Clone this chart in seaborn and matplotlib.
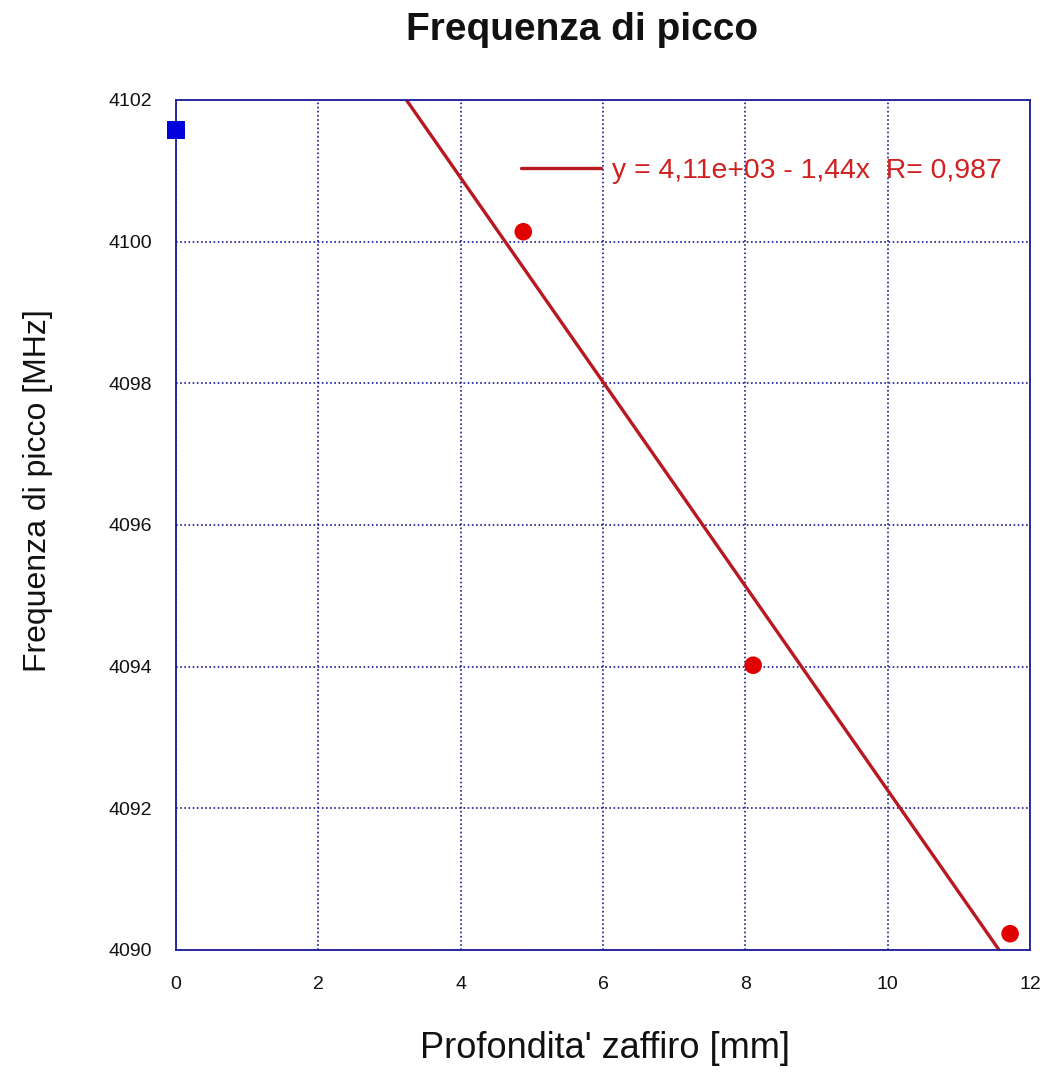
import numpy as np
import pandas as pd
import matplotlib
matplotlib.use("Agg")
import matplotlib.pyplot as plt
import seaborn as sns

# data
ref_x = [0.0]
ref_y = [4101.58]
depth = [4.88, 8.11, 11.72]
freq = [4100.14, 4094.02, 4090.23]
fit_label = "y = 4,11e+03 - 1,44x  R= 0,987"
x_ticks = [0, 2, 4, 6, 8, 10, 12]
y_ticks = [4090, 4092, 4094, 4096, 4098, 4100, 4102]

sns.set_style("white")
plt.rcParams['font.family'] = ['Liberation Sans', 'DejaVu Sans']

navy = "#1a1a9a"
df = pd.DataFrame({"x": depth, "y": freq})

fig = plt.figure(figsize=(10.4, 10.82), dpi=100)
ax = fig.add_axes([0.1692, 0.122, 0.8212, 0.7856])
ax.set_xlim(0, 12)
ax.set_ylim(4090, 4102)

sns.regplot(data=df, x="x", y="y", ax=ax, scatter=False, ci=None, truncate=False,
            label=fit_label, line_kws=dict(color="#b81820", lw=2.4))
sns.scatterplot(data=df, x="x", y="y", ax=ax, color="#e00000", marker="o", s=160,
                edgecolor="none", zorder=5, clip_on=False)
sns.scatterplot(x=ref_x, y=ref_y, ax=ax, color="#0000dd", marker="s", s=160,
                edgecolor="none", zorder=5, clip_on=False)

ax.set_xlim(0, 12)
ax.set_ylim(4090, 4102)
ax.set_xticks(x_ticks)
ax.set_yticks(y_ticks)
ax.grid(True, color=navy, linestyle=(0, (1, 1.5)), linewidth=1.2)
for s in ax.spines.values():
    s.set_color(navy)
    s.set_linewidth(1.3)
ax.tick_params(axis="x", length=0, labelsize=14, pad=19, labelcolor="#111111")
ax.tick_params(axis="y", length=0, labelsize=14, pad=17, labelcolor="#111111")

ax.set_xlabel("Profondita' zaffiro [mm]", fontsize=26, color="#111111")
ax.xaxis.set_label_coords(0.502, -0.095)
ax.set_ylabel("Frequenza di picco [MHz]", fontsize=23, color="#111111")
ax.yaxis.set_label_coords(-0.144, 0.541)
fig.text(582 / 1040, 1 - 30 / 1082, "Frequenza di picco", fontsize=28,
         fontweight="bold", ha="center", va="center", color="#111111")

leg = ax.legend(loc="center right", frameon=False, fontsize=20.4, handlelength=2.8,
                handletextpad=0.4, borderpad=0, borderaxespad=0,
                bbox_to_anchor=(0.967, 0.916))
for t in leg.get_texts():
    t.set_color("#d02020")

fig.savefig("out.png", dpi=100, facecolor="white")
